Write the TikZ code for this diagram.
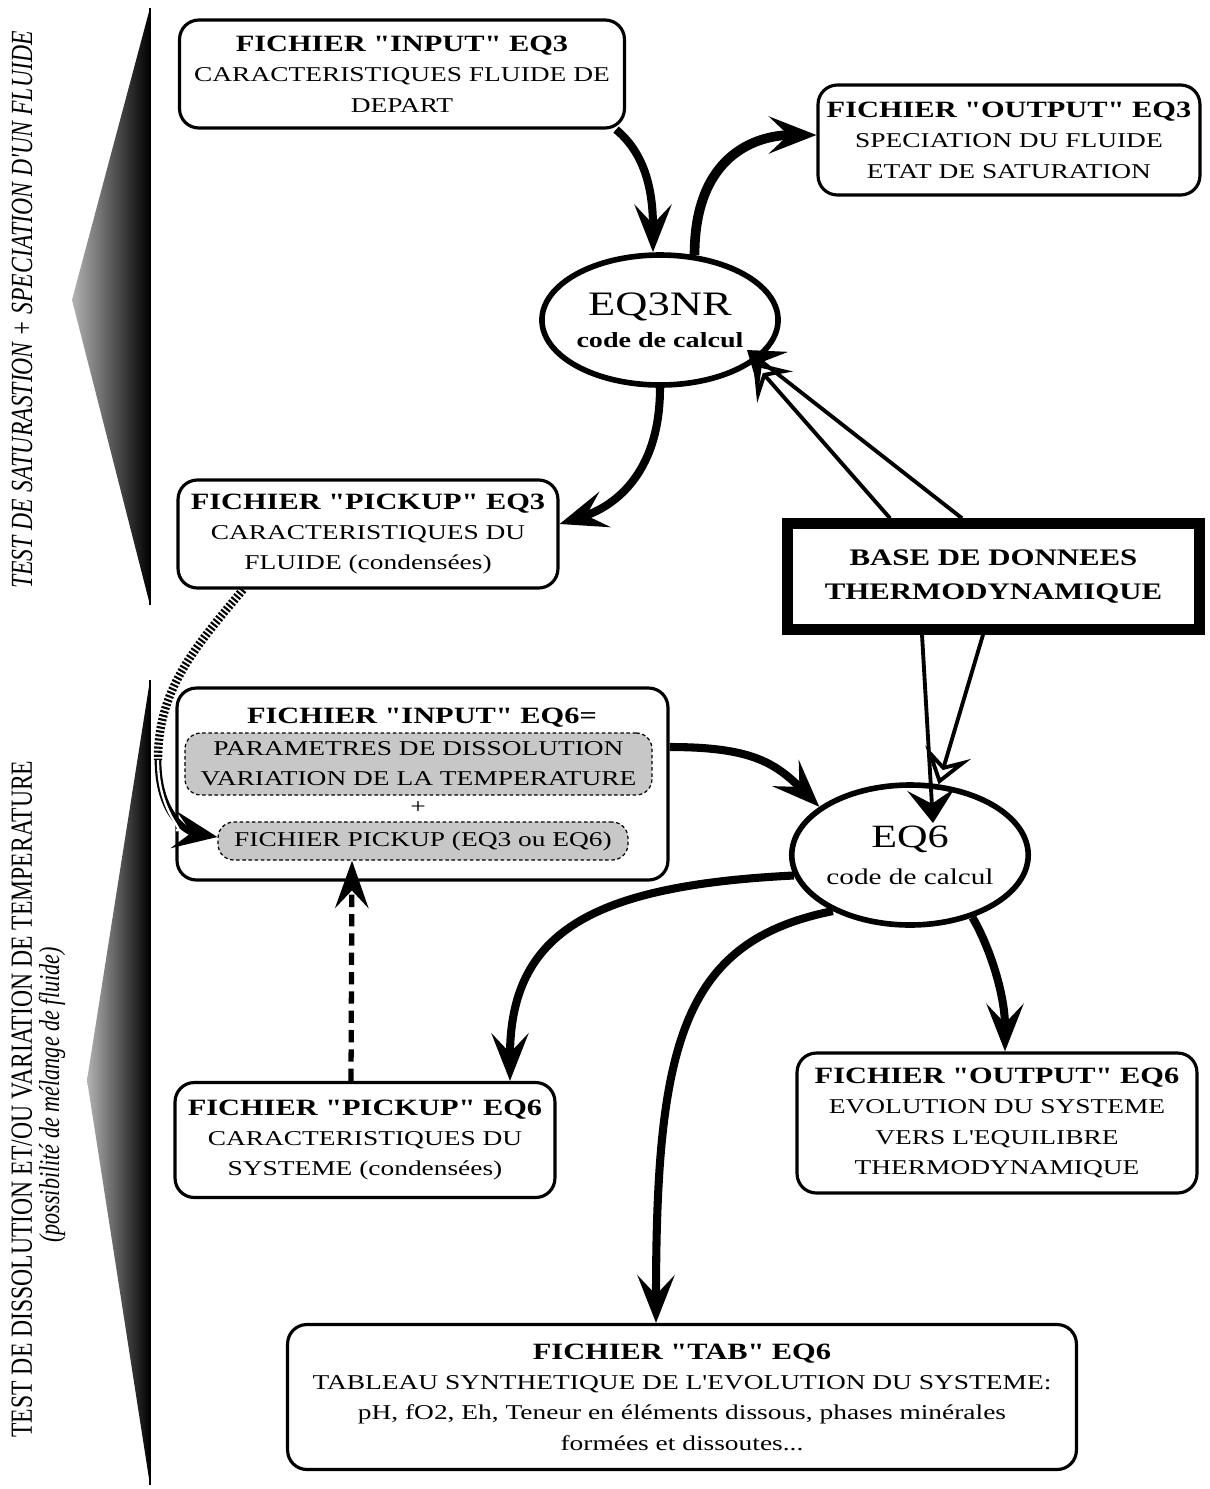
\documentclass[tikz,border=0pt]{standalone}
\usepackage{fontspec}
\setmainfont{Liberation Serif}[FakeStretch=1.3, Ligatures=TeXOff]
\newfontfamily\sidefont{Liberation Serif}[FakeStretch=0.77, Ligatures=TeXOff]
\usetikzlibrary{arrows.meta,shapes.geometric}

\newcommand\filehead[1]{{\fontsize{13.3}{17}\selectfont\bfseries #1}}

\tikzset{
  filebox/.style={draw, line width=1.8pt, rounded corners=11pt, align=center, inner sep=0pt,
    font=\fontsize{12}{17.3}\selectfont},
  codeell/.style={draw, ellipse, line width=3.2pt, align=center, inner sep=0pt},
  graybox/.style={draw, line width=0.7pt, dash pattern=on 2pt off 1.5pt, rounded corners=9pt,
    fill=black!22, align=center, inner sep=0pt, font=\fontsize{12}{17}\selectfont},
  bigarrow/.style={line width=4.6pt, -{Stealth[length=27pt,width=21pt,inset=11pt]}},
  thinarrow/.style={line width=2.2pt, -{Stealth[length=19pt,width=27pt,inset=8pt]}},
  thinarrowopen/.style={line width=2.2pt, -{Stealth[open,fill=white,length=19pt,width=27pt,inset=8pt]}},
  dashlink/.style={line width=3pt, dash pattern=on 7pt off 4pt, -{Stealth[length=27pt,width=19pt,inset=10pt]}},
  hatchlink/.style={line width=4.8pt, dash pattern=on 1.2pt off 1.1pt},
}

\begin{document}
\begin{tikzpicture}[x=0.02cm, y=-0.02cm]
\useasboundingbox (0,0) rectangle (1210,1489);

% Drawing side wedge of the EQ3 stage
\shade[left color=black!30, right color=black] (150,8) -- (72,300) -- (150,605) -- cycle;
\draw [line width=1.5pt] (150,8) -- (150,605);
\node [rotate=90, font=\sidefont\itshape\fontsize{17.5}{20}\selectfont] (lab3) at (22,310)
  {TEST DE SATURASTION + SPECIATION D'UN FLUIDE};

% Drawing side wedge of the EQ6 stage
\shade[left color=black!30, right color=black] (150,680) -- (87,1080) -- (150,1485) -- cycle;
\draw [line width=1.5pt] (150,680) -- (150,1485);
\node [rotate=90, font=\sidefont\fontsize{17.5}{20}\selectfont] (lab6) at (22,1099)
  {TEST DE DISSOLUTION ET/OU VARIATION DE TEMPERATURE};
\node [rotate=90, font=\sidefont\itshape\fontsize{16.4}{20}\selectfont] (lab6b) at (52,1095)
  {(possibilité de mélange de fluide)};

% Marking file boxes of EQ3
\node [filebox, minimum width=8.9cm, minimum height=2.16cm] (in3) at (402,74)
  {\filehead{FICHIER "INPUT" EQ3}\\CARACTERISTIQUES FLUIDE DE\\DEPART};
\node [filebox, minimum width=7.64cm, minimum height=2.2cm] (out3) at (1009,140)
  {\filehead{FICHIER "OUTPUT" EQ3}\\SPECIATION DU FLUIDE\\ETAT DE SATURATION};
\node [filebox, minimum width=7.6cm, minimum height=2.16cm] (pick3) at (368,534)
  {\filehead{FICHIER "PICKUP" EQ3}\\CARACTERISTIQUES DU\\FLUIDE (condensées)};

% Marking code EQ3NR
\node [codeell, minimum width=4.4cm, minimum height=2.6cm] (eq3) at (660,320)
  {{\fontsize{19.5}{22}\selectfont EQ3NR}\\[6pt]{\fontsize{12.3}{14}\selectfont\bfseries code de calcul}};

% Marking data base
\node [draw, line width=6pt, minimum width=8.24cm, minimum height=2.12cm, align=center,
  font=\fontsize{13.5}{19.5}\selectfont\bfseries] (base) at (993.5,576.5)
  {BASE DE DONNEES\\THERMODYNAMIQUE};

% Marking input file of EQ6
\node [filebox, minimum width=9.82cm, minimum height=3.84cm] (in6) at (422.5,784) {};
\node [font=\fontsize{13.3}{17}\selectfont\bfseries] (in6t) at (422,718) {FICHIER "INPUT" EQ6=};
\node [graybox, minimum width=9.34cm, minimum height=1.24cm] (gd) at (418.5,764)
  {PARAMETRES DE DISSOLUTION\\VARIATION DE LA TEMPERATURE};
\node [font=\fontsize{12}{14}\selectfont] (plus) at (418,808) {+};
\node [graybox, minimum width=8.2cm, minimum height=0.76cm] (gp) at (423,841)
  {FICHIER PICKUP (EQ3 ou EQ6)};

% Marking code EQ6
\node [codeell, minimum width=4.08cm, minimum height=2.8cm] (eq6) at (910,855)
  {{\fontsize{18.5}{22}\selectfont EQ6}\\[9pt]{\fontsize{12.8}{14}\selectfont code de calcul}};

% Marking file boxes of EQ6
\node [filebox, minimum width=7.6cm, minimum height=2.3cm] (pick6) at (365,1140)
  {\filehead{FICHIER "PICKUP" EQ6}\\CARACTERISTIQUES DU\\SYSTEME (condensées)};
\node [filebox, minimum width=8cm, minimum height=2.8cm] (out6) at (997,1123)
  {\filehead{FICHIER "OUTPUT" EQ6}\\EVOLUTION DU SYSTEME\\VERS L'EQUILIBRE\\THERMODYNAMIQUE};
\node [filebox, minimum width=15.78cm, minimum height=2.9cm] (tab6) at (682,1397)
  {\filehead{FICHIER "TAB" EQ6}\\TABLEAU SYNTHETIQUE DE L'EVOLUTION DU SYSTEME:\\
   pH, fO2, Eh, Teneur en éléments dissous, phases minérales\\formées et dissoutes...};

% Drawing links of EQ3NR
\draw [bigarrow] ([xshift=-0.2cm]in3.south east) .. controls +(30,25) and +(0,-60) .. ([xshift=-0.14cm]eq3.north);
\draw [bigarrow, line width=5.5pt] (eq3.62) .. controls +(0,-100) and +(-60,0) .. ([yshift=0.1cm]out3.west);
\draw [bigarrow] (eq3.south) .. controls +(0,90) and +(50,-16) .. ([yshift=0.2cm]pick3.east);
\draw [thinarrowopen] ([xshift=-2.07cm]base.north) -- ([shift={(93,42)}]eq3.center);
\draw [thinarrow] ([xshift=-0.63cm]base.north) -- ([shift={(87,30)}]eq3.center);

% Drawing links of EQ6
\draw [thinarrow] ([xshift=-1.43cm]base.south) -- ([shift={(23,-32)}]eq6.center);
\draw [thinarrowopen] ([xshift=-0.21cm]base.south) -- (eq6.68);
\draw [bigarrow] ([yshift=0.74cm]in6.east) .. controls +(80,0) and +(-45,-45) .. (eq6.152);
\draw [bigarrow] (eq6.190) .. controls +(-200,10) and +(0,-150) .. ([xshift=2.9cm]pick6.north);
\draw [bigarrow] (eq6.-45) .. controls +(15,25) and +(0,-60) .. ([xshift=0.16cm]out6.north);
\draw [bigarrow] (eq6.216) .. controls +(-150,30) and +(0,-280) .. ([xshift=-0.52cm]tab6.north);

% Drawing pickup links
\draw [dashlink] ([xshift=-0.28cm]pick6.north) -- ([xshift=-1.42cm]gp.south);
\coordinate (bend) at (158,760);
\draw [hatchlink] ([xshift=-2.5cm]pick3.south) .. controls +(-50,60) and +(0,-70) .. (bend);
\draw [line width=3.8pt, -{Stealth[length=25pt,width=21pt,inset=10pt]}] (bend) .. controls +(0,55) and +(-30,-5) .. ([yshift=0.08cm]gp.west);
\draw [line width=1.3pt, white, shorten >=24pt] (bend) .. controls +(0,55) and +(-30,-5) .. ([yshift=0.08cm]gp.west);
\end{tikzpicture}
\end{document}
